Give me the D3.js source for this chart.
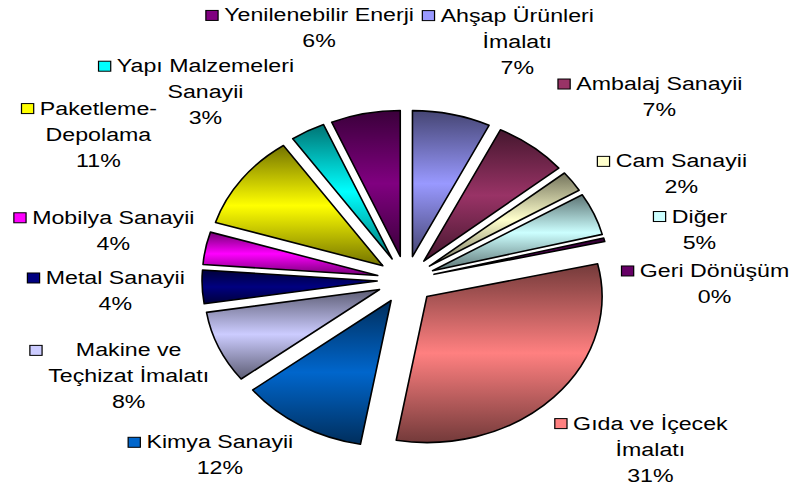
<!DOCTYPE html>
<html>
<head>
<meta charset="utf-8">
<script src="https://cdn.jsdelivr.net/npm/d3@7"></script>
<style>
  body { margin: 0; background: #fff; }
  text { font-family: Arial, "Liberation Sans", sans-serif; fill: #000; }
</style>
</head>
<body>
<div class="chart"></div>
<script>
// categories (line breaks where the label wraps)
var categories = [
    'Ahşap Ürünleri\nİmalatı',
    'Ambalaj Sanayii',
    'Cam Sanayii',
    'Diğer',
    'Geri Dönüşüm',
    'Gıda ve İçecek\nİmalatı',
    'Kimya Sanayii',
    'Makine ve\nTeçhizat İmalatı',
    'Metal Sanayii',
    'Mobilya Sanayii',
    'Paketleme-\nDepolama',
    'Yapı Malzemeleri\nSanayii',
    'Yenilenebilir Enerji'
];
// share, percent
var values = [7.2, 6.8, 2.3, 4.7, 0.4, 31.4, 11.7, 8.0, 3.7, 3.6, 10.6, 3.2, 6.4];
var colors = ['#9999FF', '#993366', '#FFFFCC', '#CCFFFF', '#660066', '#FF8080',
    '#0066CC', '#CCCCFF', '#000080', '#FF00FF', '#FFFF00', '#00FFFF', '#800080'];
// label shifts from the computed ring position
var labelNudge = [[44, -25], [68, -11], [31, 21], [17, 34], [17, 55], [27, 17],
    [-31, -14], [-2, 8], [9, 1], [2, -9], [-66, -16], [-56, 4], [-27, -37]];

var width = 793, height = 484;
var cx = 406, cy = 280;
var radius = 146, explode = 24, stretch = 1.2;
var labelRx = 300, labelRy = 220;
var fontSize = 19, lineH = 26, textStretch = 1.22;

var svg = d3.select('.chart')
    .append('svg')
    .attr('width', width)
    .attr('height', height)
    .style('display', 'block');

svg.append('rect').attr('width', width).attr('height', height).attr('fill', '#fff');

var pie = d3.pie().sort(null).value(d => d);
var arcs = pie(values);
var arc = d3.arc().innerRadius(0).outerRadius(radius);

// vertical shading on every slice: dark - colour - dark
var defs = svg.append('defs');
function shade(c, k) {
    var r = d3.rgb(c);
    return d3.rgb(r.r * k, r.g * k, r.b * k).formatHex();
}
colors.forEach((c, i) => {
    var g = defs.append('linearGradient')
        .attr('id', 'grad' + i)
        .attr('x1', 0).attr('y1', 0).attr('x2', 0).attr('y2', 1);
    g.append('stop').attr('offset', '0%').attr('stop-color', shade(c, 0.45));
    g.append('stop').attr('offset', '50%').attr('stop-color', c);
    g.append('stop').attr('offset', '100%').attr('stop-color', shade(c, 0.45));
});

var pieG = svg.append('g')
    .attr('transform', `translate(${cx}, ${cy}) scale(${stretch}, 1)`);

pieG.selectAll('.slice')
    .data(arcs)
    .enter()
    .append('path')
    .attr('class', 'slice')
    .attr('transform', d => {
        var a = (d.startAngle + d.endAngle) / 2;
        return `translate(${explode * Math.sin(a)}, ${-explode * Math.cos(a)})`;
    })
    .attr('d', arc)
    .attr('fill', (d, i) => 'url(#grad' + i + ')')
    .attr('stroke', '#000')
    .attr('stroke-width', 1.6)
    .attr('vector-effect', 'non-scaling-stroke')
    .attr('stroke-linejoin', 'round');

// labels
var labels = svg.selectAll('.label')
    .data(arcs)
    .enter()
    .append('g')
    .attr('class', 'label')
    .attr('transform', (d, i) => {
        var a = (d.startAngle + d.endAngle) / 2;
        var x = cx + labelRx * Math.sin(a) + labelNudge[i][0];
        var y = cy - labelRy * Math.cos(a) + labelNudge[i][1];
        return `translate(${x}, ${y}) scale(${textStretch}, 1)`;
    });

labels.each(function (d, i) {
    var g = d3.select(this);
    var lines = categories[i].split('\n').concat([Math.round(values[i]) + '%']);
    var top = -(lines.length - 1) * lineH / 2 + 7;
    var maxW = 0;
    lines.forEach((t, j) => {
        var txt = g.append('text')
            .attr('x', 0)
            .attr('y', top + j * lineH)
            .attr('text-anchor', 'middle')
            .style('font-size', fontSize + 'px')
            .text(t);
        if (j < lines.length - 1) maxW = Math.max(maxW, txt.node().getComputedTextLength());
    });
    g.append('rect')
        .attr('x', -maxW / 2 - 15)
        .attr('y', top - 11)
        .attr('width', 10)
        .attr('height', 10)
        .attr('fill', colors[i])
        .attr('stroke', '#000')
        .attr('stroke-width', 1);
});
</script>
</body>
</html>
